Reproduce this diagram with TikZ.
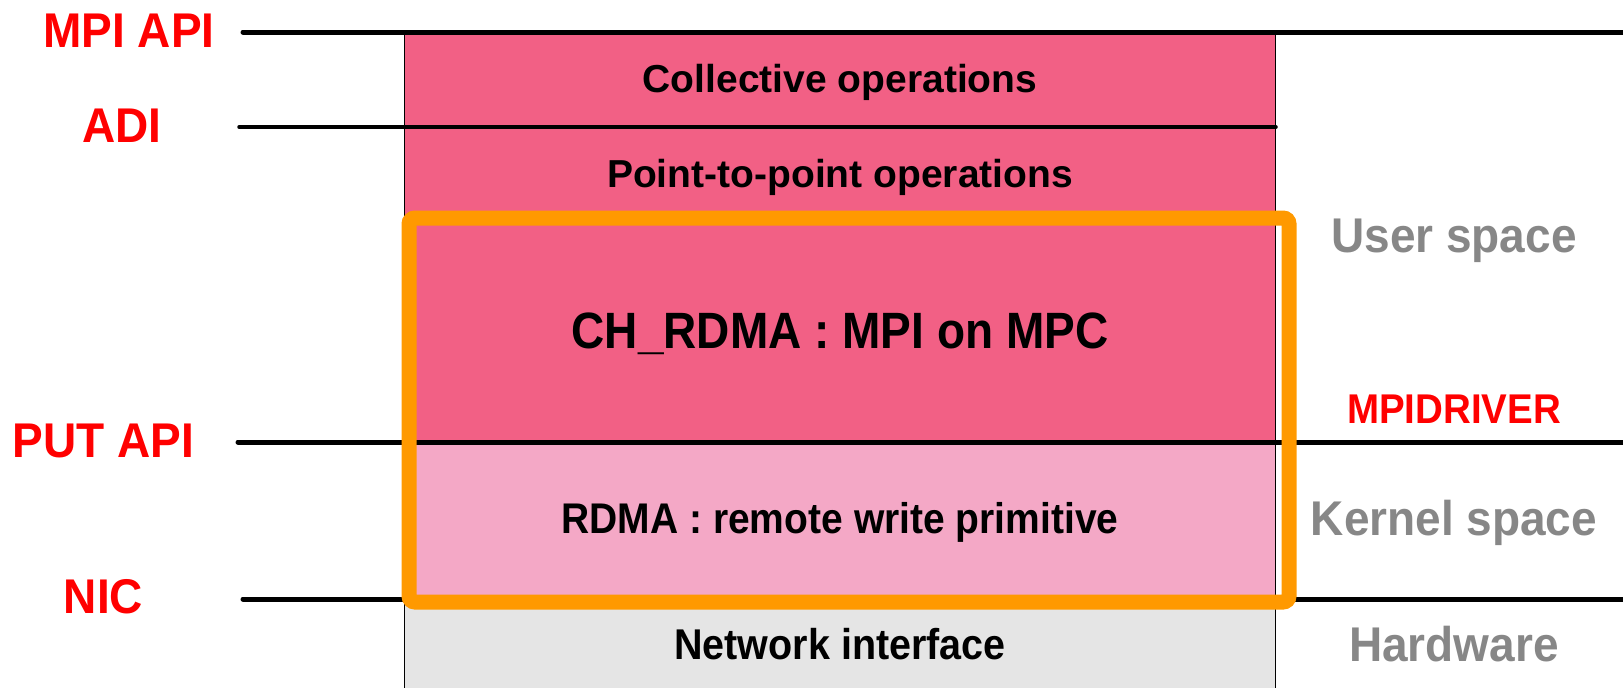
\documentclass[tikz,border=0pt]{standalone}
\usepackage{graphicx}
\usepackage{fontspec}
\setmainfont{Liberation Sans}
\definecolor{layerdark}{HTML}{F26085}
\definecolor{layerlight}{HTML}{F4A8C6}
\definecolor{layerhw}{HTML}{E5E5E5}
\definecolor{apired}{HTML}{FF0000}
\definecolor{spacegrey}{HTML}{878787}
\definecolor{frameorange}{HTML}{FF9900}
% slightly taller lettering
\newcommand{\tallertext}[2]{\scalebox{1}[#1]{#2}}
\tikzset{
  apilabel/.style={anchor=base, text=apired, font=\fontsize{46}{46}\selectfont\bfseries, inner sep=0pt},
  spacelabel/.style={anchor=base, text=spacegrey, font=\fontsize{46}{46}\selectfont\bfseries, inner sep=0pt},
  layertext/.style={anchor=base, text=black, font=\fontsize{39}{39}\selectfont\bfseries, inner sep=0pt},
  boundary/.style={draw=black, line width=5pt, line cap=round},
  edgeline/.style={draw=black, line width=1pt},
}
\begin{document}
\begin{tikzpicture}[x=1pt, y=-1pt]
\useasboundingbox (0,0) rectangle (1623,688);

% layer fills
\fill[layerdark]  (404,32)  rectangle (1275,442);
\fill[layerlight] (404,442) rectangle (1275,599);
\fill[layerhw]    (404,599) rectangle (1275,688);

% box side edges
\draw[edgeline] (404,32) -- (404,688);
\draw[edgeline] (1275,32) -- (1275,688);

% interface boundaries
\coordinate (mpiL) at (243,32);   \coordinate (mpiR) at (1630,32);
\coordinate (adiL) at (239,127);  \coordinate (adiR) at (1276,127);
\coordinate (putL) at (238,442);  \coordinate (putR) at (1630,442);
\coordinate (nicL) at (243,599);  \coordinate (nicR) at (1630,599);
\draw[boundary] (mpiL) -- (mpiR);
\draw[boundary, line width=3.5pt] (adiL) -- (adiR);
\draw[boundary] (putL) -- (putR);
\draw[boundary] (nicL) -- (nicR);

% layer names
\node[layertext] (coll) at (840,92)  {Collective operations};
\node[layertext] (p2p)  at (840,187) {Point-to-point operations};
\node[layertext, font=\fontsize{46}{46}\selectfont\bfseries] (chrdma) at (840,348) {\tallertext{1.11}{CH\_RDMA : MPI on MPC}};
\node[layertext] (rdma) at (840,533) {\tallertext{1.1}{RDMA : remote write primitive}};
\node[layertext, font=\fontsize{39.5}{39.5}\selectfont\bfseries] (nif)  at (840,659) {\tallertext{1.09}{Network interface}};

% interface names
\node[apilabel] (lmpi) at (129,47)  {\tallertext{1.06}{MPI API}};
\node[apilabel] (ladi) at (122,142) {\tallertext{1.06}{ADI}};
\node[apilabel] (lput) at (103.5,457) {\tallertext{1.06}{PUT API}};
\node[apilabel] (lnic) at (103.5,613) {\tallertext{1.06}{NIC}};
\node[apilabel, font=\fontsize{38.5}{38.5}\selectfont\bfseries] (ldrv) at (1454,423) {\tallertext{1.08}{MPIDRIVER}};

% address spaces
\node[spacelabel] (user) at (1454,252) {\tallertext{1.06}{User space}};
\node[spacelabel] (kern) at (1454,535) {\tallertext{1.06}{Kernel space}};
\node[spacelabel] (hw)   at (1454,661) {\tallertext{1.06}{Hardware}};

% highlighted CH_RDMA stack
\draw[frameorange, line width=15pt, rounded corners=6pt] (409,218) rectangle (1289,602);
\end{tikzpicture}
\end{document}
